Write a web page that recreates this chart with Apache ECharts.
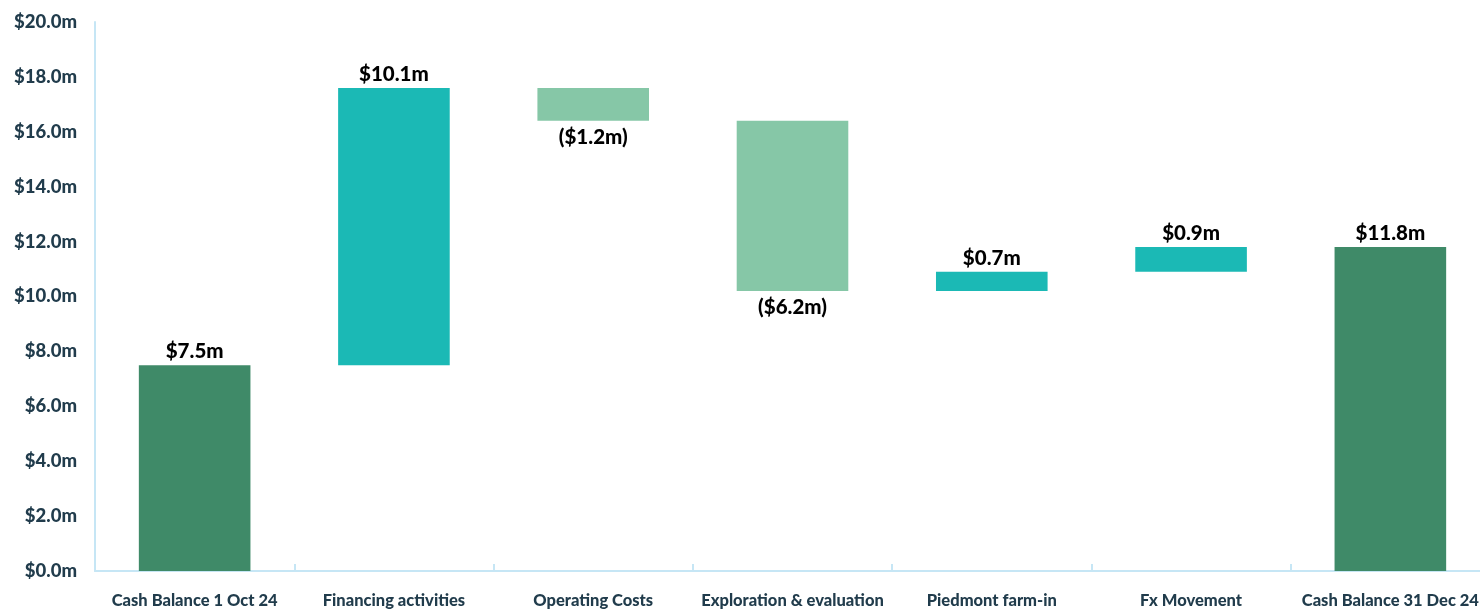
<!DOCTYPE html>
<html>
<head>
<meta charset="utf-8">
<script src="https://cdn.jsdelivr.net/npm/echarts@6/dist/echarts.min.js"></script>
<style>
html,body{margin:0;padding:0;background:#fff;}
#chart{width:1480px;height:609px;}
</style>
</head>
<body>
<div id="chart"></div>
<script>
const categories = ['Cash Balance 1 Oct 24','Financing activities','Operating Costs','Exploration & evaluation','Piedmont farm-in','Fx Movement','Cash Balance 31 Dec 24'];
const changes = [7.5, 10.1, -1.2, -6.2, 0.7, 0.9, 11.8];
const isTotal = [true, false, false, false, false, false, true];
const yTicks = [0, 2, 4, 6, 8, 10, 12, 14, 16, 18, 20];

const COL_TOTAL = '#3F8A68', COL_UP = '#1BB9B5', COL_DOWN = '#86C7A7';

let running = 0;
const baseData = [], barData = [];
changes.forEach((v, i) => {
  let base, h;
  if (isTotal[i]) { base = 0; h = v; running = v; }
  else if (v >= 0) { base = running; h = v; running += v; }
  else { running += v; base = running; h = -v; }
  base = Math.round(base * 100) / 100;
  baseData.push(base);
  barData.push({
    value: h,
    itemStyle: { color: isTotal[i] ? COL_TOTAL : (v >= 0 ? COL_UP : COL_DOWN) },
    label: v >= 0 ? { position: 'top', distance: 3 } : { position: 'bottom', distance: 6 }
  });
});

const fmt = v => v < 0 ? '($' + Math.abs(v).toFixed(1) + 'm)' : '$' + v.toFixed(1) + 'm';

const chart = echarts.init(document.getElementById('chart'));
chart.setOption({
  animation: false,
  grid: { left: 95, right: -10, top: 22, bottom: 38, containLabel: false, outerBoundsMode: 'none' },
  xAxis: {
    type: 'category',
    data: categories,
    axisLine: { lineStyle: { color: '#C6E6F5', width: 2 } },
    axisTick: { show: true, inside: true, length: 7, lineStyle: { color: '#C6E6F5', width: 2 } },
    axisLabel: { color: '#213C4C', fontFamily: 'Lato', fontWeight: 900, fontSize: 16.5, margin: 21, interval: 0 }
  },
  yAxis: {
    type: 'value',
    min: yTicks[0], max: yTicks[yTicks.length - 1], interval: 2,
    axisLine: { show: true, lineStyle: { color: '#C6E6F5', width: 2 } },
    axisTick: { show: false },
    splitLine: { show: false },
    axisLabel: { color: '#213C4C', fontFamily: 'Lato', fontWeight: 900, fontSize: 18.5, margin: 18,
      formatter: v => '$' + v.toFixed(1) + 'm' }
  },
  series: [
    { type: 'bar', stack: 'w', data: baseData, itemStyle: { color: 'transparent' }, barWidth: '56%', silent: true },
    { type: 'bar', stack: 'w', data: barData, barWidth: '56%',
      label: { show: true, color: '#000', fontFamily: 'Lato', fontWeight: 900, fontSize: 20.5,
        formatter: p => fmt(changes[p.dataIndex]) } }
  ]
});
</script>
</body>
</html>
